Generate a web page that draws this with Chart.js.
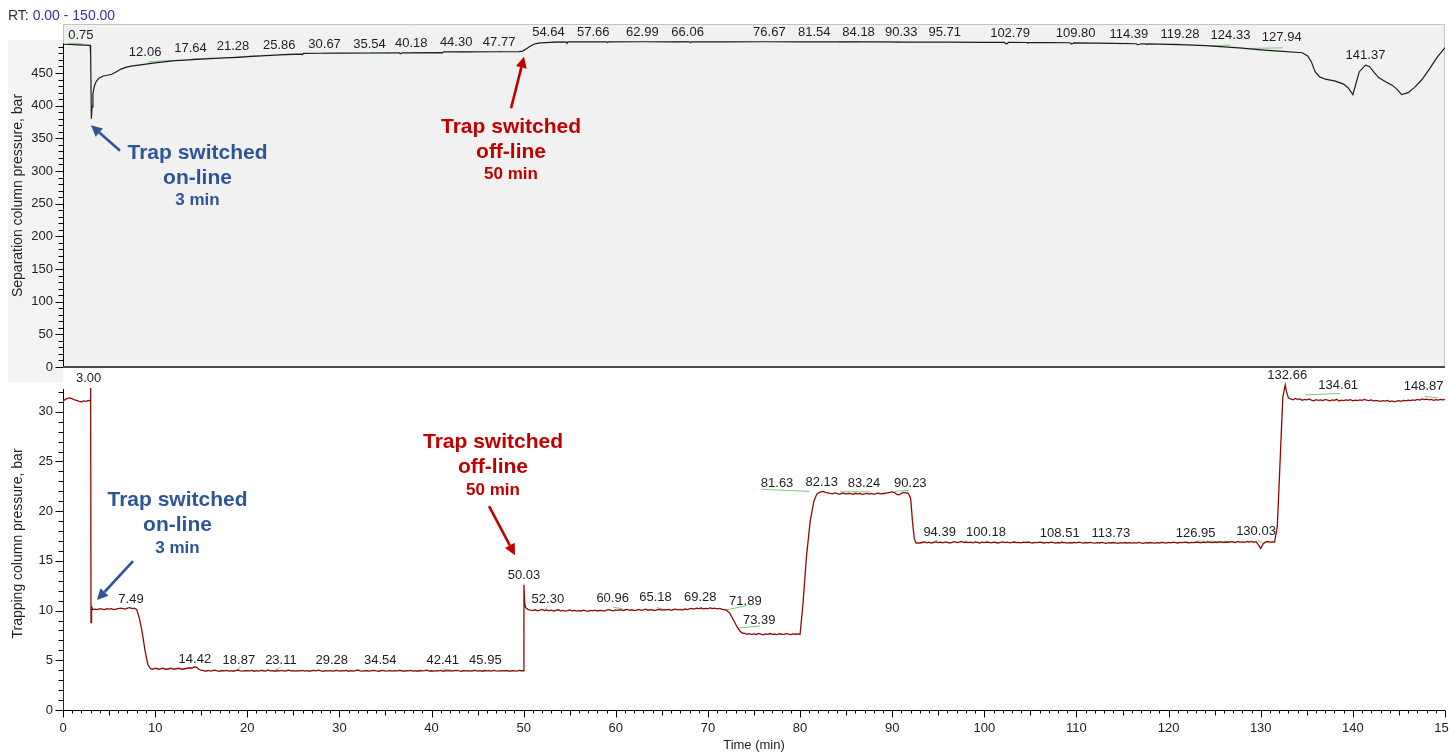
<!DOCTYPE html>
<html>
<head>
<meta charset="utf-8">
<title>Column pressures</title>
<script src="https://cdn.jsdelivr.net/npm/chart.js@4.4.1/dist/chart.umd.min.js"></script>
<style>
  html, body { margin: 0; padding: 0; background: #fff; width: 1449px; height: 753px; overflow: hidden; }
  #rt { position: absolute; left: 8px; top: 7px; font: 14px/16px "Liberation Sans", Arial, sans-serif; color: #333; }
  #rt span { color: #3232a8; }
  #topCanvas { position: absolute; left: 0; top: 0; }
  #botCanvas { position: absolute; left: 0; top: 368px; }
</style>
</head>
<body>
<canvas id="topCanvas" width="1449" height="384"></canvas>
<canvas id="botCanvas" width="1449" height="385"></canvas>
<div id="rt">RT: <span>0.00 - 150.00</span></div>
<script>
// ---------- data ----------
// Separation column pressure (bar) vs time (min)
const sepTrace = [
  [0,494],[0.8,493.6],[1.6,493],[2.4,492.6],[2.95,492.3],[3.0,478],[3.08,380],[3.15,398],[3.25,418],
  [3.4,430],[3.6,437],[3.9,442],[4.3,445],[4.8,446.5],[5.3,448],[5.8,452],[6.3,456],[6.8,458.5],
  [7.4,460.5],[8.2,462],[9.2,464],[10.2,466],[11.2,467.5],[12.2,468.8],[13.2,469.8],[14.5,470.8],
  [16,472],[17.5,473],[19,474],[20.5,475.3],[22,476.6],[23.5,477.8],[25,478.6],[25.9,479],[26.0,478],
  [26.1,480],[28,480.2],[31,480.5],[34,480.6],[36.5,480.8],[36.6,479.5],[36.8,480.8],[38,480.9],
  [41,481.2],[41.2,480.8],[41.3,482.3],[44,482.4],[47,482.5],[49.5,482.6],[49.9,483.5],[50.3,487],
  [50.7,491],[51.1,494],[51.6,495.8],[52.3,496.6],[53.5,497.2],[54.6,497.4],[54.7,496],[54.8,497.5],
  [57,497.6],[59,497.6],[59.1,496.3],[59.2,497.6],[63,497.8],[66,497.6],[68,497.6],[68.1,496.3],
  [68.2,497.6],[72,497.7],[76,497.8],[80,497.6],[84,497.6],[88,497.5],[92,497.4],[96,497.2],[100,497],
  [102.2,496.9],[102.3,495],[102.5,495],[102.6,496.8],[104.6,496.7],[104.7,495.5],[104.8,496.7],
  [107,496.5],[109.3,496.3],[109.4,495],[109.6,494.8],[109.7,496.2],[112,495.8],[114,495.3],
  [116.5,494.8],[116.6,493.5],[116.8,493.6],[117,494.7],[117.5,494.7],[117.6,493.6],[117.7,494.6],
  [120,493.8],[122,493],[124,491.8],[126,490],[128,488],[130,485.5],[132,483.5],[134.5,481],
  [135.1,476],[135.5,467],[135.9,452],[136.4,444],[137,440.5],[138,438],[139,433],[139.5,427],
  [140.0,417],[140.3,432],[140.7,452],[141.37,462],[141.8,460],[142.3,451],[142.8,443],[143.5,437],
  [144.3,431],[144.8,425],[145.3,417],[146,420],[146.7,428],[147.5,440],[148.3,456],[149.1,473],[150,489]
];

// Trapping column pressure (bar): transitions as explicit points, plateaus as 0.25 min samples
const trapLead      = [[0,0],[0.02,31.1]];
const trapRun1      = [31.25,31.35,31.4,31.3,31.2,31.15,31.05,31.0,31.1,31.05,31.15];           // 0.25 .. 2.75
const trapSwitchOn  = [[2.95,31.1],[3.0,32.4],[3.04,8.8],[3.1,10.4],[3.25,10.1]];
const trapRun2      = [10.15,10.1,10.2,10.15,10.1,10.2,10.15,10.2,10.1,10.15,10.2,10.25,10.2,10.15,10.25,10.3,10.2,10.25]; // 3.5 .. 7.75
const trapDrop1     = [[8.0,10.1],[8.3,9.2],[8.6,7.8],[8.9,6.0],[9.2,4.6]];
const trapRun3      = [4.15,4.1,4.2,4.15,4.1,4.2,4.15,4.1,4.15,4.2,4.1,4.15,4.2,4.15,4.1,4.15,4.2,4.25,4.2,4.35,4.3,4.1,4.0]; // 9.5 .. 15
const trapRun4      = [ // 15.25 .. 49.75
  3.95,3.9,3.98,3.92,3.96,4.0,3.93,3.9,3.97,3.94,
  3.99,3.92,3.95,3.9,3.96,4.02,3.94,3.91,3.97,3.95,
  3.93,3.98,3.9,3.96,3.92,3.99,3.95,3.91,4.03,3.94,
  3.96,3.9,3.97,3.93,3.98,3.92,3.95,4.0,3.93,3.96,
  3.91,3.97,3.94,3.99,3.92,3.96,3.9,3.95,3.98,3.93,
  4.01,3.94,3.9,3.96,3.93,3.97,3.92,3.95,3.99,3.91,
  3.96,3.93,3.98,3.9,3.95,3.92,3.97,4.02,3.94,3.91,
  3.97,3.95,3.92,3.96,3.99,3.93,3.9,3.95,3.98,3.92,
  3.94,3.97,3.91,3.96,3.93,3.99,3.95,3.9,3.96,3.94,
  3.98,3.92,3.95,3.9,3.97,3.93,3.96,4.0,3.92,3.95,
  3.91,3.96,3.94,3.98,3.9,3.95,3.93,3.97,3.92,3.96,
  3.99,3.93,3.9,3.96,3.94,3.97,3.91,3.95,3.98,3.92,
  3.95,3.9,3.97,3.93,3.96,3.92,3.98,3.94,3.91,3.96,
  3.93,3.97,3.95,3.9,3.96,3.94,3.92,3.98,3.95
];
const trapSwitchOff = [[49.95,3.95],[50.03,12.6],[50.1,10.9],[50.2,10.3]];
const trapRun5      = [ // 50.5 .. 71.75
  10.1,10.05,10.0,10.08,9.98,10.05,10.12,10.0,10.06,9.97,
  10.04,9.96,10.02,10.08,9.98,10.03,9.95,10.0,10.06,9.97,
  10.01,9.94,10.0,9.96,10.04,9.97,9.93,10.02,9.98,10.05,
  9.96,10.03,10.0,9.95,10.06,10.1,10.02,9.98,10.07,10.03,
  10.1,10.0,10.06,10.12,10.02,10.08,10.0,10.05,10.11,10.03,
  10.08,10.14,10.04,10.1,10.06,10.0,10.09,10.13,10.05,10.1,
  10.07,10.12,10.03,10.1,10.15,10.08,10.13,10.06,10.16,10.1,
  10.18,10.22,10.15,10.24,10.2,10.26,10.18,10.23,10.2,10.27,
  10.2,10.24,10.18,10.22,10.15,10.1
];
const trapDrop2     = [[72.0,10.05],[72.4,9.7],[72.8,9.0],[73.2,8.3],[73.5,7.9],[73.8,7.72]];
const trapRun6      = [7.7,7.62,7.68,7.58,7.65,7.6,7.7,7.63,7.57,7.66,7.61,7.69,7.6,7.64,7.58,7.67,7.62,7.6,7.68,7.63,7.59,7.66,7.62,7.65]; // 74 .. 79.75
const trapRise1     = [[80.0,7.6],[80.3,10.5],[80.7,15.5],[81.1,19.0],[81.5,21.0],[81.8,21.7]];
const trapRun7      = [ // 82 .. 91.75
  21.85,21.95,22.0,21.9,21.85,21.8,21.75,21.85,21.8,21.7,
  21.78,21.82,21.72,21.8,21.76,21.7,21.8,21.74,21.78,21.7,
  21.75,21.8,21.72,21.78,21.7,21.76,21.82,21.74,21.78,21.8,
  21.85,21.9,21.95,21.88,21.7,21.65,21.8,21.9,21.85,21.8
];
const trapDrop3     = [[92.0,21.3],[92.2,19.0],[92.4,17.2],[92.6,16.8]];
const trapRun8      = [ // 93 .. 131.25
  16.8,16.85,16.9,16.82,16.88,16.8,16.86,16.92,16.84,16.88,
  16.82,16.9,16.86,16.8,16.87,16.93,16.85,16.89,16.95,16.86,
  16.9,16.84,16.88,16.82,16.9,16.86,16.8,16.88,16.84,16.9,
  16.86,16.82,16.89,16.85,16.8,16.87,16.92,16.84,16.88,16.82,
  16.86,16.9,16.83,16.87,16.81,16.88,16.85,16.9,16.84,16.8,
  16.87,16.83,16.89,16.85,16.8,16.86,16.82,16.88,16.84,16.79,
  16.85,16.81,16.87,16.83,16.78,16.84,16.8,16.86,16.82,16.88,
  16.83,16.79,16.85,16.81,16.87,16.82,16.78,16.84,16.8,16.86,
  16.82,16.77,16.84,16.8,16.85,16.81,16.76,16.83,16.79,16.85,
  16.8,16.84,16.78,16.83,16.79,16.86,16.81,16.77,16.84,16.8,
  16.85,16.82,16.78,16.84,16.8,16.87,16.83,16.79,16.86,16.82,
  16.88,16.84,16.8,16.86,16.83,16.89,16.85,16.81,16.87,16.84,
  16.9,16.86,16.82,16.88,16.84,16.91,16.87,16.83,16.89,16.85,
  16.92,16.88,16.84,16.9,16.86,16.93,16.89,16.85,16.95,16.88,
  16.92,16.86,16.95,16.9,16.97,16.88,16.93,16.6,16.25,16.7,
  16.9,16.95,16.88,16.92
];
const trapRise2     = [[131.5,16.9],[131.8,18.5],[132.1,25],[132.4,31.5],[132.66,32.7],[132.8,32.0],[133.0,31.4]];
const trapRun9      = [ // 133.25 .. 150
  31.3,31.2,31.35,31.25,31.3,31.15,31.25,31.2,31.3,31.18,
  31.1,31.22,31.15,31.2,31.12,31.25,31.18,31.1,31.2,31.15,
  31.25,31.08,31.18,31.12,31.2,31.15,31.22,31.1,31.17,31.13,
  31.2,31.15,31.25,31.18,31.12,31.2,31.08,31.15,31.1,31.05,
  31.12,31.08,31.15,31.02,31.1,31.0,31.08,31.12,31.05,31.15,
  31.1,31.18,31.12,31.2,31.15,31.25,31.18,31.3,31.22,31.28,
  31.2,31.25,31.15,31.22,31.18,31.25,31.2,31.22
];

// Peak annotations: apex time (min) and apex height (bar)
const sepPeakTimes   = [0.75,12.06,17.64,21.28,25.86,30.67,35.54,40.18,44.30,47.77,54.64,57.66,62.99,66.06,76.67,81.54,84.18,90.33,95.71,102.79,109.80,114.39,119.28,124.33,127.94,141.37];
const sepPeakHeights = [492.9,465.8,472.5,476,477.6,479.1,479.1,480.2,481.1,481.1,496.4,496.4,496.9,496.4,496.4,496.4,496.4,496.4,496.4,495.5,495.5,494.2,493.2,491.7,488.5,462];
const trapPeakTimes   = [3.00,7.49,14.42,18.87,23.11,29.28,34.54,42.41,45.95,50.03,52.30,60.96,65.18,69.28,71.89,73.39,81.63,82.13,83.24,90.23,94.39,100.18,108.51,113.73,126.95,130.03,132.66,134.61,148.87];
const trapPeakHeights = [32.36,10.12,4.12,4.02,3.95,4.02,4.02,3.97,4.02,12.56,10.15,10.22,10.28,10.28,9.95,8.04,21.8,21.9,21.8,21.8,16.88,16.88,16.78,16.78,16.78,16.98,32.66,31.66,31.56];

// Integration baselines: [t0, v0, t1, v1]
const sepBaselines = [
  [0.5,495.5,2.2,494.5],[9.2,467,11.9,469.5],[13.9,471.5,16.4,473],[18.7,474.5,21.2,476.5],
  [23.5,478.5,25.4,479.5],[28.2,480.5,30.4,480.5],[33.3,480.8,35.5,480.6],[37.9,481.5,40.0,481.3],
  [42.8,482.8,44.4,482.6],[47.2,482.8,47.8,482.8],[53.1,497.6,54.5,498.4],[66.1,497.8,67.8,498.3],
  [84.2,497.2,86.4,498.3],[90.3,496.6,91.0,497.6],[114.6,494.6,115.7,495.6],[119.4,493.4,121.2,494.6],
  [124.5,491.5,126.7,492.6],[128.4,487.5,132.4,488.5]
];
const trapBaselines = [
  [18.9,4.05,19.3,4.35],[23.0,4.0,23.6,4.3],[41.2,4.15,42.5,3.95],[52.3,10.15,52.6,10.4],
  [59.7,10.35,60.8,10.15],[64.5,10.3,65.1,10.15],[71.9,10.05,74.2,10.5],[73.4,8.25,75.7,8.45],
  [75.8,22.2,81.0,22.0],[84.3,21.95,87.6,21.95],[90.3,22.0,91.8,22.1],[94.4,16.85,95.0,17.1],
  [108.3,17.0,108.6,16.85],[123.1,17.0,127.1,16.95],[129.7,17.0,130.2,16.85],[134.8,31.7,138.6,31.85],
  [147.8,31.55,149.2,31.4]
];

// Axis tick values
const sepTicks  = [0,50,100,150,200,250,300,350,400,450];
const trapTicks = [0,5,10,15,20,25,30];
const timeTicks = [0,10,20,30,40,50,60,70,80,90,100,110,120,130,140,150];

// ---------- layout / style ----------
const FONT = '"Liberation Sans", Arial, Helvetica, sans-serif';
Chart.defaults.font.family = FONT;
Chart.defaults.font.size = 13;
Chart.defaults.color = '#222';

// label nudges (px) where labels were pushed sideways to avoid overlaps
const sepLabelShift  = [11,-29,-35,-26,-22,-21,-21,-22,-15,-4,-18,-1,-1,16,0,0,20,6,0,0,1,12,18,22,40,0];
const trapLabelShift = [-2,-1,-1,2,5,-1,-1,-11,-1,0,3,-12,-8,-1,20,20,-38,2,34,16,7,0,-3,0,-37,-5,2,35,-11];

const calloutFont = { big: 'bold 21px ' + FONT, small: 'bold 17px ' + FONT, steps: [25, 23], width: 2.6 };
const BLUE = '#2e5597', RED = '#c00000';

function run(start, step, values) { return values.map((v, i) => [+(start + i * step).toFixed(3), v]); }
function toXY(pairs) { return pairs.map(([x, y]) => ({ x, y })); }
function baselinePoints(list) {
  const out = [];
  list.forEach(([t0, v0, t1, v1]) => { out.push({ x: t0, y: v0 }, { x: t1, y: v1 }, { x: t1 + 0.01, y: null }); });
  return out;
}

const trapTrace = [].concat(
  trapLead, run(0.25, 0.25, trapRun1), trapSwitchOn, run(3.5, 0.25, trapRun2), trapDrop1,
  run(9.5, 0.25, trapRun3), run(15.25, 0.25, trapRun4), trapSwitchOff, run(50.5, 0.25, trapRun5),
  trapDrop2, run(74, 0.25, trapRun6), trapRise1, run(82, 0.25, trapRun7), trapDrop3,
  run(93, 0.25, trapRun8), trapRise2, run(133.25, 0.25, trapRun9)
);

// ---------- plugins ----------
const panelDecor = {
  id: 'panelDecor',
  beforeDraw(chart, args, o) {
    const { ctx, chartArea: a } = chart;
    ctx.save();
    if (o.strip) {
      ctx.fillStyle = o.strip.color;
      ctx.fillRect(o.strip.left, o.strip.top, a.left - o.strip.left, o.strip.bottom - o.strip.top);
    }
    if (o.fill) {
      ctx.fillStyle = o.fill;
      ctx.fillRect(a.left, a.top, a.right - a.left, a.bottom - a.top);
      ctx.strokeStyle = '#c4c4c4';
      ctx.lineWidth = 1;
      ctx.beginPath();
      ctx.moveTo(a.left + 0.5, a.bottom); ctx.lineTo(a.left + 0.5, a.top + 0.5);
      ctx.lineTo(a.right - 0.5, a.top + 0.5); ctx.lineTo(a.right - 0.5, a.bottom);
      ctx.stroke();
    }
    ctx.restore();
  },
  afterDraw(chart, args, o) {
    if (!o.bottomRule) return;
    const { ctx, chartArea: a } = chart;
    ctx.save();
    ctx.fillStyle = '#4a4a4a';
    ctx.fillRect(a.left, a.bottom - 1, a.right - a.left, 2);
    ctx.restore();
  }
};

// axis lines with major and minor tick marks; drawn under the traces
const axisTicks = {
  id: 'axisTicks',
  beforeDatasetsDraw(chart, args, o) {
    const { ctx, chartArea: a } = chart;
    const sx = chart.scales.x, sy = chart.scales.y;
    ctx.save();
    ctx.strokeStyle = '#000';
    ctx.lineWidth = 1;
    ctx.beginPath();
    if (o.y) {
      const xl = a.left + 0.5;
      ctx.moveTo(xl, Math.round(sy.getPixelForValue(0)) + 0.5);
      ctx.lineTo(xl, sy.getPixelForValue(o.y.axisTo));
      for (let i = 0; i * o.y.minor <= o.y.last + 1e-9; i++) {
        const v = i * o.y.minor;
        const py = Math.round(sy.getPixelForValue(v)) + 0.5;
        const major = Math.abs(v / o.y.major - Math.round(v / o.y.major)) < 1e-6;
        ctx.moveTo(xl, py); ctx.lineTo(xl - (major ? 8 : 5), py);
      }
    }
    if (o.x) {
      const yb = Math.round(a.bottom) + 0.5;
      ctx.moveTo(a.left, yb); ctx.lineTo(a.right, yb);
      for (let v = 0; v <= 150; v += 1) {
        const px = Math.round(sx.getPixelForValue(v)) + 0.5;
        const len = v % 10 === 0 ? 7 : (v % 5 === 0 ? 5 : 3);
        ctx.moveTo(px, yb); ctx.lineTo(px, yb + len);
      }
    }
    ctx.stroke();
    ctx.restore();
  }
};

const peakLabels = {
  id: 'peakLabels',
  afterDatasetsDraw(chart, args, o) {
    const { ctx } = chart;
    const sx = chart.scales.x, sy = chart.scales.y;
    ctx.save();
    ctx.font = '13px ' + FONT;
    ctx.fillStyle = '#1e1e1e';
    ctx.textAlign = 'center';
    ctx.textBaseline = 'middle';
    o.times.forEach((t, i) => {
      const px = sx.getPixelForValue(t) + (o.shift[i] || 0);
      const py = sy.getPixelForValue(o.heights[i]) - 10;
      ctx.fillText(t.toFixed(2), px, py);
    });
    ctx.restore();
  }
};

function drawArrow(ctx, x0, y0, x1, y1, color) {
  const ang = Math.atan2(y1 - y0, x1 - x0), L = 11, W = 5.5;
  const bx = x1 - L * Math.cos(ang), by = y1 - L * Math.sin(ang);
  ctx.strokeStyle = color; ctx.lineWidth = calloutFont.width; ctx.lineCap = 'butt';
  ctx.beginPath(); ctx.moveTo(x0, y0); ctx.lineTo(bx, by); ctx.stroke();
  ctx.fillStyle = color;
  ctx.beginPath();
  ctx.moveTo(x1, y1);
  ctx.lineTo(bx + W * Math.sin(ang), by - W * Math.cos(ang));
  ctx.lineTo(bx - W * Math.sin(ang), by + W * Math.cos(ang));
  ctx.closePath(); ctx.fill();
}

const callouts = {
  id: 'callouts',
  afterDraw(chart, args, o) {
    const { ctx } = chart;
    const sx = chart.scales.x, sy = chart.scales.y;
    ctx.save();
    o.items.forEach(it => {
      const cx = sx.getPixelForValue(it.at[0]);
      let cy = sy.getPixelForValue(it.at[1]);
      ctx.fillStyle = it.color;
      ctx.textAlign = 'center';
      ctx.textBaseline = 'middle';
      it.lines.forEach((txt, i) => {
        if (i > 0) cy += calloutFont.steps[i - 1];
        ctx.font = i < 2 ? calloutFont.big : calloutFont.small;
        ctx.fillText(txt, cx, cy);
      });
      drawArrow(ctx, sx.getPixelForValue(it.tail[0]), sy.getPixelForValue(it.tail[1]),
                sx.getPixelForValue(it.tip[0]), sy.getPixelForValue(it.tip[1]), it.color);
    });
    ctx.restore();
  }
};

function fixedTicks(values) { return s => { s.ticks = values.map(v => ({ value: v })); }; }

// ---------- separation column panel ----------
new Chart(document.getElementById('topCanvas'), {
  type: 'line',
  data: {
    datasets: [
      { data: toXY(sepTrace), borderColor: '#1c1c1c', borderWidth: 1.2, pointRadius: 0, tension: 0, order: 0 },
      { data: baselinePoints(sepBaselines), borderColor: '#78cc78', borderWidth: 1, pointRadius: 0, spanGaps: false, order: 1 }
    ]
  },
  options: {
    responsive: false, animation: false, events: [],
    layout: { padding: { left: 0, right: 4, top: 24, bottom: 17 } },
    plugins: {
      legend: { display: false }, tooltip: { enabled: false },
      panelDecor: { fill: '#f1f1f1', strip: { left: 8, top: 40, bottom: 382, color: '#f4f4f4' }, bottomRule: true },
      axisTicks: { y: { minor: 10, major: 50, last: 490, axisTo: 495 } },
      peakLabels: { times: sepPeakTimes, heights: sepPeakHeights, shift: sepLabelShift },
      callouts: { items: [
        { color: BLUE, at: [14.6, 328], lines: ['Trap switched', 'on-line', '3 min'], tail: [6.19, 331], tip: [3.04, 370] },
        { color: RED, at: [48.63, 367.8], lines: ['Trap switched', 'off-line', '50 min'], tail: [48.63, 396], tip: [50.04, 475] }
      ] }
    },
    scales: {
      x: { type: 'linear', min: 0, max: 150, display: false },
      y: {
        type: 'linear', min: 0, max: 525,
        afterBuildTicks: fixedTicks(sepTicks),
        afterFit: s => { s.width = 63; s.paddingTop = 0; s.paddingBottom = 0; },
        grid: { display: false, drawTicks: false, tickLength: 0 },
        border: { display: false },
        ticks: { padding: 10, color: '#222', font: { size: 13 } },
        title: { display: true, text: 'Separation column pressure, bar', color: '#222', font: { size: 14 }, padding: { top: 10, bottom: 0 } }
      }
    }
  },
  plugins: [panelDecor, axisTicks, peakLabels, callouts]
});

// ---------- trapping column panel ----------
new Chart(document.getElementById('botCanvas'), {
  type: 'line',
  data: {
    datasets: [
      { data: toXY(trapTrace), borderColor: '#8e0a0a', borderWidth: 1.3, pointRadius: 0, tension: 0, order: 0 },
      { data: baselinePoints(trapBaselines), borderColor: '#78cc78', borderWidth: 1, pointRadius: 0, spanGaps: false, order: 1 }
    ]
  },
  options: {
    responsive: false, animation: false, events: [],
    layout: { padding: { left: 0, right: 4, top: 9, bottom: 0 } },
    plugins: {
      legend: { display: false }, tooltip: { enabled: false },
      axisTicks: { y: { minor: 1, major: 5, last: 32, axisTo: 32.3 }, x: true },
      peakLabels: { times: trapPeakTimes, heights: trapPeakHeights, shift: trapLabelShift },
      callouts: { items: [
        { color: BLUE, at: [12.43, 21.1], lines: ['Trap switched', 'on-line', '3 min'], tail: [7.6, 14.97], tip: [3.69, 11.06] },
        { color: RED, at: [46.67, 26.93], lines: ['Trap switched', 'off-line', '50 min'], tail: [46.24, 20.5], tip: [49.06, 15.58] }
      ] }
    },
    scales: {
      x: {
        type: 'linear', min: 0, max: 150,
        afterBuildTicks: fixedTicks(timeTicks),
        afterFit: s => { s.height = 43; s.paddingLeft = 0; s.paddingRight = 0; },
        grid: { display: false, drawTicks: false, tickLength: 0 },
        border: { display: false },
        ticks: { padding: 11, autoSkip: false, maxRotation: 0, color: '#222', font: { size: 13 } },
        title: { display: true, text: 'Time (min)', color: '#222', font: { size: 13 }, padding: { top: 0, bottom: 0 } }
      },
      y: {
        type: 'linear', min: 0, max: 33.5,
        afterBuildTicks: fixedTicks(trapTicks),
        afterFit: s => { s.width = 63; s.paddingTop = 0; s.paddingBottom = 0; },
        grid: { display: false, drawTicks: false, tickLength: 0 },
        border: { display: false },
        ticks: { padding: 10, color: '#222', font: { size: 13 } },
        title: { display: true, text: 'Trapping column pressure, bar', color: '#222', font: { size: 14 }, padding: { top: 10, bottom: 0 } }
      }
    }
  },
  plugins: [panelDecor, axisTicks, peakLabels, callouts]
});
</script>
</body>
</html>
